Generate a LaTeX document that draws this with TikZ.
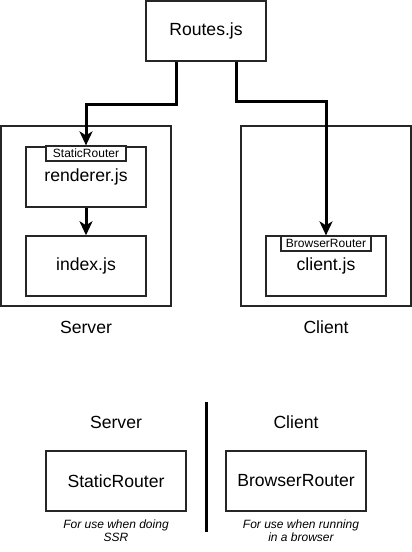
\documentclass[tikz,border=0pt]{standalone}
\usepackage{fontspec}
\setmainfont{Liberation Sans}
\usetikzlibrary{arrows.meta,calc}
\begin{document}
\begin{tikzpicture}[x=1pt,y=-1pt,
  box/.style={draw=black!85,line width=1.5pt,fill=white,rectangle,inner sep=0pt,minimum width=120pt,minimum height=60pt,font=\fontsize{17.6}{21}\selectfont},
  tag/.style={draw=black!85,line width=1.2pt,fill=white,rectangle,inner sep=0pt,minimum height=15pt,font=\fontsize{12}{14}\selectfont},
  area/.style={draw=black!85,line width=1.5pt,rectangle,inner sep=0pt,minimum width=170pt,minimum height=180pt},
  lbl/.style={inner sep=0pt,font=\fontsize{17.6}{21}\selectfont},
  note/.style={inner sep=0pt,align=center,font=\fontsize{12}{13.3}\selectfont\itshape},
  arr/.style={line width=3pt,-{Stealth[length=14pt,width=13pt,inset=4pt]}}]
\useasboundingbox (0,0) rectangle (412,552);
% areas
\node[area] (srv) at (86,216) {};
\node[area] (cli) at (326,216) {};
% top nodes
\node[box] (routes) at (206,31) {Routes.js};
\node[box] (renderer) at (86,177) {renderer.js};
\node[tag,minimum width=80pt] (st) at (86,153.5) {StaticRouter};
\node[box] (index) at (86,266) {index.js};
\node[box] (clientjs) at (326,266) {client.js};
\node[tag,minimum width=90pt] (br) at (326,243.5) {BrowserRouter};
\node[lbl] (srvl) at (86,327) {Server};
\node[lbl] (clil) at (326,327) {Client};
% connectors
\coordinate (k1) at (176,104);
\coordinate (k2) at (236,101);
\draw[arr] (routes.south -| k1) -- (k1) -| (st.north);
\draw[arr] (routes.south -| k2) -- (k2) -| (br.north);
\draw[arr] (renderer.south) -- (index.north);
% bottom legend
\node[lbl] (srvh) at (116,422) {Server};
\node[lbl] (clih) at (296,422) {Client};
\coordinate (d1) at (206,402);
\coordinate (d2) at (206,532);
\draw[line width=3pt] (d1) -- (d2);
\node[box,minimum width=140pt] (sr) at (116,481) {StaticRouter};
\node[box,minimum width=140pt] (bro) at (296,481) {BrowserRouter};
\node[note] (n1) at (116,531) {For use when doing\\SSR};
\node[note] (n2) at (301,531) {For use when running\\in a browser};
\end{tikzpicture}
\end{document}
